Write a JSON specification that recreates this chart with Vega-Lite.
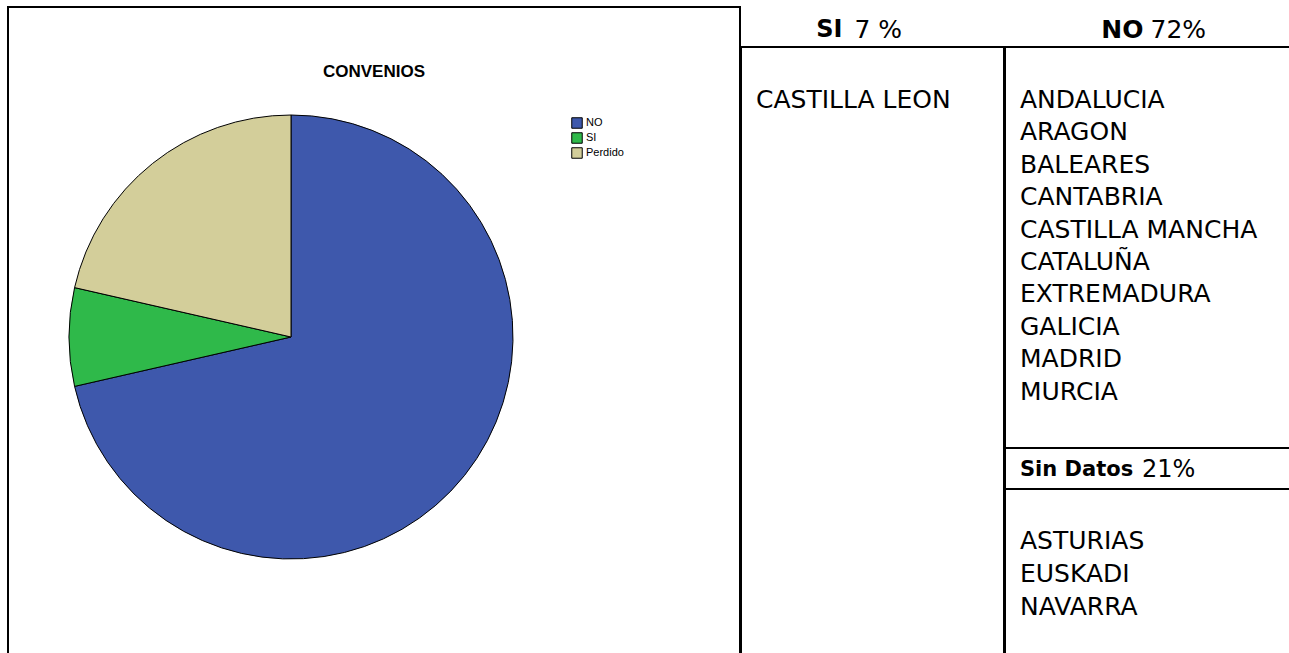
{
  "$schema": "https://vega.github.io/schema/vega-lite/v6.json",
  "padding": {"left": 7, "top": 6, "right": -6, "bottom": -5},
  "background": "white",
  "bounds": "full",
  "spacing": -2,
  "config": {
    "view": {"stroke": "black", "strokeWidth": 2},
    "text": {"color": "black"}
  },
  "datasets": {
    "pie": [
      {"categoria": "NO", "n": 10, "orden": 1},
      {"categoria": "SI", "n": 1, "orden": 2},
      {"categoria": "Perdido", "n": 3, "orden": 3}
    ],
    "si_head": [{"etiqueta": "SI", "porcentaje": "7 %"}],
    "no_head": [{"etiqueta": "NO", "porcentaje": "72%"}],
    "sd_head": [{"etiqueta": "Sin Datos", "porcentaje": "21%"}],
    "si_list": [{"fila": 1, "region": "CASTILLA LEON"}],
    "no_list": [
      {"fila": 1, "region": "ANDALUCIA"},
      {"fila": 2, "region": "ARAGON"},
      {"fila": 3, "region": "BALEARES"},
      {"fila": 4, "region": "CANTABRIA"},
      {"fila": 5, "region": "CASTILLA MANCHA"},
      {"fila": 6, "region": "CATALUÑA"},
      {"fila": 7, "region": "EXTREMADURA"},
      {"fila": 8, "region": "GALICIA"},
      {"fila": 9, "region": "MADRID"},
      {"fila": 10, "region": "MURCIA"}
    ],
    "sd_list": [
      {"fila": 1, "region": "ASTURIAS"},
      {"fila": 2, "region": "EUSKADI"},
      {"fila": 3, "region": "NAVARRA"}
    ]
  },
  "hconcat": [
    {
      "width": 732,
      "height": 650,
      "title": {"text": "CONVENIOS", "font": "Liberation Sans", "fontSize": 17, "fontWeight": "bold", "color": "black", "anchor": "middle", "baseline": "alphabetic", "offset": -87},
      "data": {"name": "pie"},
      "mark": {"type": "arc", "radius": 222, "stroke": "black", "strokeWidth": 1},
      "encoding": {
        "theta": {"field": "n", "type": "quantitative", "stack": true},
        "order": {"field": "orden", "type": "quantitative"},
        "color": {
          "field": "categoria", "type": "nominal",
          "scale": {"domain": ["NO", "SI", "Perdido"], "range": ["#3E58AC", "#2FB94A", "#D3CE9A"]},
          "legend": {
            "title": null, "orient": "none", "legendX": 563, "legendY": 110,
            "symbolType": "square", "symbolSize": 110, "symbolStrokeColor": "black", "symbolStrokeWidth": 1,
            "labelFont": "Liberation Sans", "labelFontSize": 11, "labelColor": "black", "rowPadding": -1, "labelOffset": 3
          }
        },
        "x": {"value": 283},
        "y": {"value": 330}
      }
    },
    {
      "vconcat": [
        {
          "width": 263, "height": 40,
          "data": {"name": "si_head"},
          "layer": [
            {"mark": {"type": "text", "font": "DejaVu Sans", "fontWeight": "bold", "fontSize": 24, "align": "right", "baseline": "middle", "dx": -30, "dy": 3},
             "encoding": {"text": {"field": "etiqueta"}}},
            {"mark": {"type": "text", "font": "DejaVu Sans", "fontSize": 25, "align": "left", "baseline": "middle", "dx": -18, "dy": 3},
             "encoding": {"text": {"field": "porcentaje"}}}
          ]
        },
        {
          "width": 263, "height": 610,
          "data": {"name": "si_list"},
          "mark": {"type": "text", "font": "DejaVu Sans", "fontSize": 25, "align": "left", "baseline": "middle"},
          "encoding": {
            "text": {"field": "region"},
            "x": {"value": 15},
            "y": {"field": "fila", "type": "quantitative", "axis": null, "scale": {"domain": [-0.636, 18.19], "reverse": true, "nice": false, "zero": false}}
          }
        }
      ],
      "spacing": 0,
      "bounds": "flush"
    },
    {
      "vconcat": [
        {
          "width": 291, "height": 40,
          "data": {"name": "no_head"},
          "layer": [
            {"mark": {"type": "text", "font": "DejaVu Sans", "fontWeight": "bold", "fontSize": 25, "align": "right", "baseline": "middle", "dx": -7, "dy": 3},
             "encoding": {"text": {"field": "etiqueta"}}},
            {"mark": {"type": "text", "font": "DejaVu Sans", "fontSize": 25, "align": "left", "baseline": "middle", "dx": 0, "dy": 3},
             "encoding": {"text": {"field": "porcentaje"}}}
          ]
        },
        {
          "width": 291, "height": 401,
          "data": {"name": "no_list"},
          "mark": {"type": "text", "font": "DejaVu Sans", "fontSize": 25, "align": "left", "baseline": "middle"},
          "encoding": {
            "text": {"field": "region"},
            "x": {"value": 15},
            "y": {"field": "fila", "type": "quantitative", "axis": null, "scale": {"domain": [-0.636, 11.741], "reverse": true, "nice": false, "zero": false}}
          }
        },
        {
          "width": 291, "height": 41,
          "data": {"name": "sd_head"},
          "layer": [
            {"mark": {"type": "text", "font": "DejaVu Sans", "fontWeight": "bold", "fontSize": 21, "align": "left", "baseline": "middle", "dy": 1},
             "encoding": {"text": {"field": "etiqueta"}, "x": {"value": 15}}},
            {"mark": {"type": "text", "font": "DejaVu Sans", "fontSize": 24, "align": "left", "baseline": "middle", "dy": 1},
             "encoding": {"text": {"field": "porcentaje"}, "x": {"value": 137}}}
          ]
        },
        {
          "width": 291, "height": 168,
          "data": {"name": "sd_list"},
          "mark": {"type": "text", "font": "DejaVu Sans", "fontSize": 25, "align": "left", "baseline": "middle"},
          "encoding": {
            "text": {"field": "region"},
            "x": {"value": 15},
            "y": {"field": "fila", "type": "quantitative", "axis": null, "scale": {"domain": [-0.585, 4.537], "reverse": true, "nice": false, "zero": false}}
          }
        }
      ],
      "spacing": 0,
      "bounds": "flush"
    }
  ]
}
